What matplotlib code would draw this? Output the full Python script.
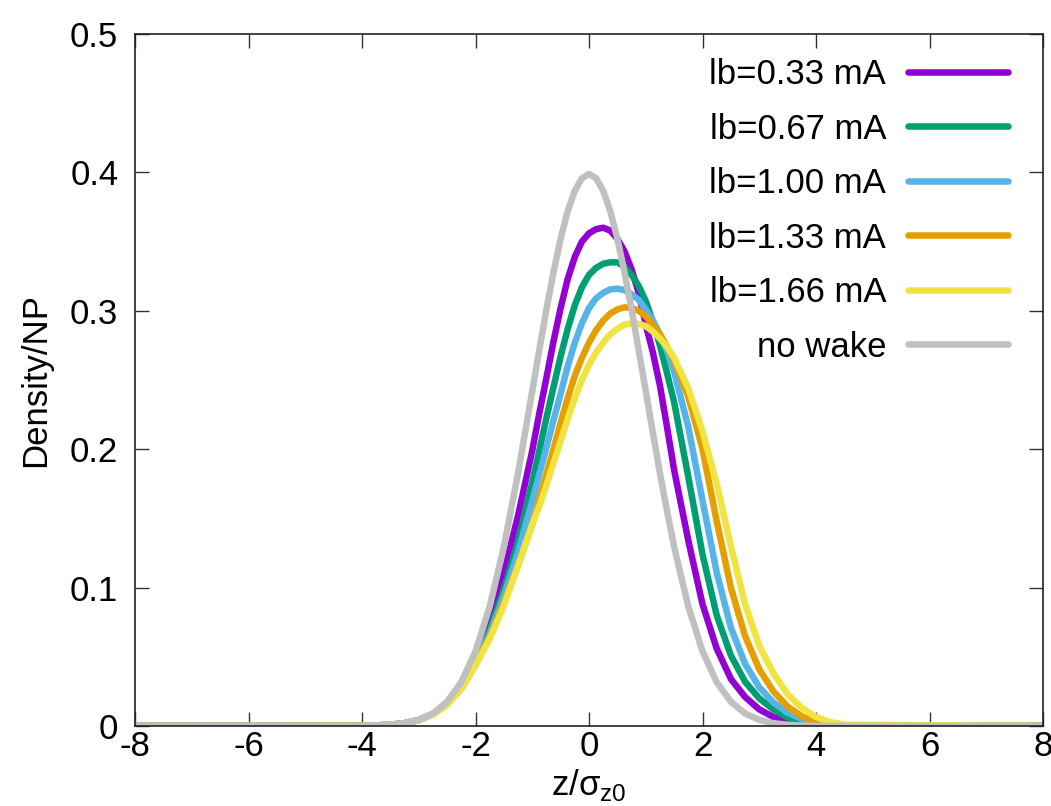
import numpy as np
import matplotlib
matplotlib.use("Agg")
import matplotlib.pyplot as plt

plt.rcParams['font.family'] = ['Liberation Sans', 'DejaVu Sans']
plt.rcParams['mathtext.fontset'] = 'custom'
plt.rcParams['mathtext.rm'] = 'Liberation Sans'
plt.rcParams['axes.unicode_minus'] = False

# z / sigma_z0 sample points (finer near the peak)
z = [-8, -4.0, -3.75, -3.5, -3.25, -3.0, -2.75, -2.5, -2.25, -2.0, -1.75, -1.5, -1.25,
     -1.0, -0.875, -0.75, -0.625, -0.5, -0.375, -0.25, -0.125, 0.0, 0.125, 0.25,
     0.375, 0.5, 0.625, 0.75, 0.875, 1.0, 1.125, 1.25, 1.375, 1.5,
     1.75, 2.0, 2.25, 2.5, 2.75, 3.0, 3.25, 3.5, 3.75, 4.0, 4.25, 4.5, 8]

ib033 = [0, 0.0001, 0.0004, 0.0009, 0.0020, 0.0043, 0.0086, 0.0166, 0.0297, 0.0488, 0.0748, 0.111, 0.152,
         0.199, 0.226, 0.2516, 0.278, 0.302, 0.323, 0.339, 0.350, 0.356, 0.359, 0.360,
         0.358, 0.352, 0.343, 0.330, 0.313, 0.290, 0.270, 0.246, 0.216, 0.185,
         0.134, 0.088, 0.056, 0.034, 0.021, 0.012, 0.0065, 0.003, 0.0013, 0.0005, 0.0002, 0.0, 0]
ib067 = [0, 0.0001, 0.0004, 0.0009, 0.0020, 0.0043, 0.0086, 0.0162, 0.0283, 0.046, 0.0694, 0.099, 0.1334,
         0.176, 0.199, 0.2227, 0.245, 0.267, 0.287, 0.304, 0.317, 0.326, 0.331, 0.334,
         0.335, 0.335, 0.332, 0.326, 0.318, 0.307, 0.292, 0.275, 0.255, 0.234,
         0.180, 0.124, 0.080, 0.051, 0.032, 0.020, 0.012, 0.006, 0.0025, 0.001, 0.0004, 0.0001, 0]
ib100 = [0, 0.0001, 0.0004, 0.0009, 0.0020, 0.0043, 0.0086, 0.0159, 0.0280, 0.0449, 0.0669, 0.094, 0.1257,
         0.1626, 0.182, 0.2012, 0.221, 0.240, 0.260, 0.277, 0.291, 0.302, 0.309, 0.313,
         0.3155, 0.316, 0.315, 0.312, 0.308, 0.301, 0.293, 0.283, 0.271, 0.256,
         0.216, 0.163, 0.111, 0.071, 0.045, 0.028, 0.017, 0.0095, 0.005, 0.002, 0.0008, 0.0003, 0]
ib133 = [0, 0.0001, 0.0004, 0.0009, 0.0020, 0.0043, 0.0085, 0.0158, 0.0274, 0.044, 0.0644, 0.0893, 0.1163,
         0.1456, 0.164, 0.182, 0.200, 0.219, 0.237, 0.253, 0.266, 0.277, 0.286, 0.293,
         0.298, 0.301, 0.3025, 0.302, 0.300, 0.296, 0.290, 0.283, 0.274, 0.264,
         0.238, 0.200, 0.148, 0.100, 0.065, 0.041, 0.025, 0.014, 0.007, 0.003, 0.0012, 0.0004, 0]
ib166 = [0, 0.0001, 0.0004, 0.0009, 0.0019, 0.0042, 0.0083, 0.0154, 0.0264, 0.044, 0.063, 0.087, 0.116,
         0.146, 0.159, 0.174, 0.190, 0.206, 0.222, 0.237, 0.250, 0.261, 0.270, 0.277,
         0.283, 0.287, 0.290, 0.291, 0.2905, 0.289, 0.285, 0.280, 0.274, 0.266,
         0.244, 0.213, 0.175, 0.130, 0.088, 0.058, 0.038, 0.023, 0.013, 0.0065, 0.0028, 0.001, 0]
nowake = [0, 0.0001, 0.0004, 0.0009, 0.0020, 0.0044, 0.0091, 0.0175, 0.0317, 0.0540, 0.0863, 0.1295, 0.1826,
          0.2420, 0.2717, 0.3011, 0.3279, 0.3521, 0.3720, 0.3867, 0.3958, 0.3989, 0.3958, 0.3867,
          0.3720, 0.3521, 0.3279, 0.3011, 0.2717, 0.2420, 0.2121, 0.1826, 0.1554, 0.1295,
          0.0863, 0.0540, 0.0317, 0.0175, 0.0091, 0.0044, 0.0020, 0.0009, 0.0004, 0.0001, 0.0, 0.0, 0]

labels = ["lb=0.33 mA", "lb=0.67 mA", "lb=1.00 mA", "lb=1.33 mA", "lb=1.66 mA", "no wake"]
colors = ["#9400d3", "#009e73", "#56b4e9", "#e69f00", "#f0e442", "#c0c0c0"]
curves = [ib033, ib067, ib100, ib133, ib166, nowake]

fig = plt.figure(figsize=(10.51, 8.06), dpi=100)
ax = fig.add_axes([135 / 1051, 80 / 806, 908 / 1051, 692 / 806])

for y, lab, c in zip(curves, labels, colors):
    ax.plot(z, y, color=c, lw=4.7, label=lab,
            solid_capstyle='round', solid_joinstyle='round')

ax.set_xlim(-8, 8)
ax.set_ylim(0, 0.5)
ax.set_xticks(np.arange(-8, 9, 2))
yt = [0, 0.1, 0.2, 0.3, 0.4, 0.5]
ax.set_yticks(yt)
ax.set_yticklabels(["%g" % v for v in yt])
ax.tick_params(direction='in', length=10, width=1, top=True, right=True,
               labelsize=25, colors='#333333', labelcolor='black')
ax.tick_params(axis='x', pad=3)
ax.tick_params(axis='y', pad=12)
for s in ax.spines.values():
    s.set_linewidth(1.2)
    s.set_color('#222222')

ax.set_xlabel('z/σ$_\\mathregular{z0}$', fontsize=25)
ax.set_ylabel('Density/NP', fontsize=25)
ax.xaxis.set_label_coords(0.5, (11 - 80) / 692)
ax.xaxis.label.set_va('baseline')
ax.yaxis.set_label_coords((36 - 135) / 908, 0.5)
ax.yaxis.label.set_va('center')

leg = ax.legend(loc='upper right', bbox_to_anchor=((1008 - 135) / 908, (726 - 58) / 692),
                frameon=False, markerfirst=False, fontsize=25, handlelength=2.88,
                handletextpad=0.63, labelspacing=0.62, borderaxespad=0, borderpad=0)
for col in leg._legend_box._children[1]._children:
    col.align = 'right'

fig.savefig("out.png", dpi=100)
